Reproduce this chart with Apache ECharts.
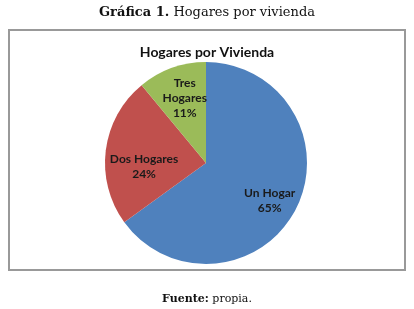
<!DOCTYPE html>
<html>
<head>
<meta charset="utf-8">
<script src="https://cdn.jsdelivr.net/npm/echarts@6/dist/echarts.min.js"></script>
<style>
  html, body { margin: 0; padding: 0; background: #fff; }
  #chart { width: 414px; height: 309px; }
</style>
</head>
<body>
<div id="chart"></div>
<script>
var categories = ['Un Hogar', 'Dos Hogares', 'Tres Hogares'];
var values = [65, 24, 11];
var labelNames = ['Un Hogar', 'Dos Hogares', 'Tres\nHogares'];
var colors = ['#4F81BD', '#C0504D', '#9BBB59'];
// small nudges so labels sit where Excel's "best fit" put them
var labelNudge = [[0, 5], [9, 13], [3, 2]];

var pieData = categories.map(function (name, i) {
    return { name: name, value: values[i], labelName: labelNames[i] };
});
var labelData = categories.map(function (name, i) {
    return {
        name: name,
        value: values[i],
        labelName: labelNames[i],
        label: { offset: labelNudge[i] }
    };
});

var chart = echarts.init(document.getElementById('chart'));
var labelFont = 'Lato, "Open Sans", sans-serif';

var option = {
    animation: false,
    color: colors,
    title: [{
        text: '{b|Gráfica 1.} Hogares por vivienda',
        left: 'center',
        top: 1,
        textStyle: {
            fontFamily: '"DejaVu Serif", serif',
            fontWeight: 'normal',
            fontSize: 13,
            color: '#111',
            rich: {
                b: { fontFamily: '"DejaVu Serif", serif', fontWeight: 'bold', fontSize: 13, color: '#111' }
            }
        }
    }, {
        text: 'Hogares por Vivienda',
        left: 'center',
        top: 40,
        textStyle: { fontFamily: labelFont, fontWeight: 'bold', fontSize: 14, color: '#111' }
    }, {
        text: '{b|Fuente:} propia.',
        left: 'center',
        top: 289,
        textStyle: {
            fontFamily: '"DejaVu Serif", serif',
            fontWeight: 'normal',
            fontSize: 11,
            color: '#111',
            rich: {
                b: { fontFamily: '"DejaVu Serif", serif', fontWeight: 'bold', fontSize: 11, color: '#111' }
            }
        }
    }],
    graphic: [{
        type: 'rect',
        shape: { x: 9, y: 30, width: 396, height: 240 },
        style: { fill: 'none', stroke: '#999', lineWidth: 2 },
        z: -1
    }],
    series: [{
        // filled slices
        type: 'pie',
        radius: [0, 101],
        center: [206, 163],
        startAngle: 90,
        clockwise: true,
        silent: true,
        label: { show: false },
        labelLine: { show: false },
        itemStyle: { borderColor: '#fff', borderWidth: 0 },
        data: pieData
    }, {
        // transparent ring only used to place labels further out
        type: 'pie',
        radius: [36, 101],
        center: [206, 163],
        startAngle: 90,
        clockwise: true,
        silent: true,
        itemStyle: { color: 'rgba(0,0,0,0)' },
        label: {
            show: true,
            position: 'inside',
            fontFamily: labelFont,
            fontWeight: 'bold',
            fontSize: 12,
            lineHeight: 15,
            color: '#1a1a1a',
            formatter: function (p) {
                return p.data.labelName + '\n' + p.percent.toFixed(0) + '%';
            }
        },
        labelLine: { show: false },
        data: labelData
    }]
};
chart.setOption(option);
</script>
</body>
</html>
